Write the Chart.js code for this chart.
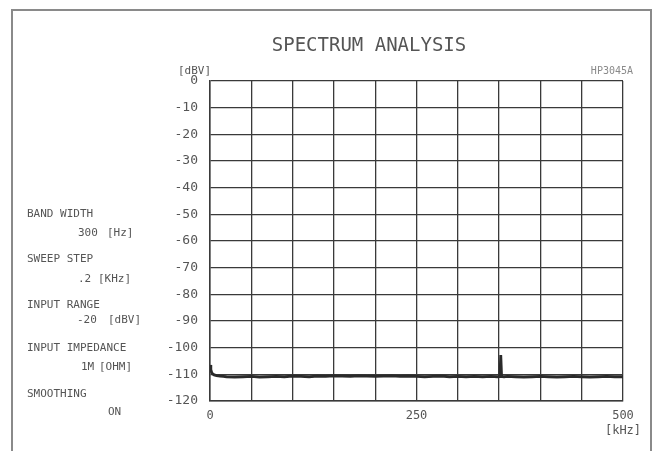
<!DOCTYPE html>
<html>
<head>
<meta charset="utf-8">
<script src="https://cdn.jsdelivr.net/npm/chart.js@4/dist/chart.umd.min.js"></script>
<style>
  html, body { margin: 0; padding: 0; background: #fff; }
  #wrap { width: 659px; height: 451px; }
</style>
</head>
<body>
<div id="wrap"><canvas id="spectrum" width="659" height="451"></canvas></div>
<script>
const freqKHz = [
  0, 1, 2, 3, 5, 8, 12, 16, 20,
  30, 40, 50, 60, 70, 80, 90, 100, 110, 120, 130, 140, 150, 160, 170, 180,
  190, 200, 210, 220, 230, 240, 250, 260, 270, 280, 290, 300, 310, 320, 330, 340,
  348, 351, 352, 353, 356,
  360, 370, 380, 390, 400, 410, 420, 430, 440, 450, 460, 470, 480, 490, 500
];
const levelDbv = [
  -106.5, -108.2, -109.3, -109.8, -110.2, -110.5, -110.7, -110.8, -110.9,
  -111.0, -110.9, -110.8, -111.0, -110.9, -110.8, -110.9, -110.7, -110.8, -110.9, -110.7, -110.8, -110.6, -110.7, -110.8, -110.6,
  -110.7, -110.8, -110.7, -110.6, -110.8, -110.7, -110.8, -110.9, -110.8, -110.7, -110.9, -110.8, -110.9, -110.8, -110.9, -110.8,
  -110.9, -110.8, -102.8, -110.8, -110.9,
  -110.8, -110.9, -111.0, -110.9, -110.8, -110.9, -111.0, -110.9, -110.8, -110.9, -111.0, -110.9, -110.8, -110.9, -110.9
];

// x tick labels shown (others blank)
const xTickLabels = { 0: '0', 250: '250', 500: ['500', '[kHz]'] };

// instrument settings panel on the left
const settingLines = [
  ['BAND WIDTH', 27, 214], ['300', 78, 233], ['[Hz]', 107, 233],
  ['SWEEP STEP', 27, 259], ['.2', 78, 279], ['[KHz]', 98, 279],
  ['INPUT RANGE', 27, 305], ['-20', 77, 320], ['[dBV]', 108, 320],
  ['INPUT IMPEDANCE', 27, 348], ['1M', 81, 367], ['[OHM]', 99, 367],
  ['SMOOTHING', 27, 394], ['ON', 108, 412]
];

const MONO = '"DejaVu Sans Mono", "Liberation Mono", monospace';

const sheetPlugin = {
  id: 'sheet',
  afterDraw: function(chart) {
    const ctx = chart.ctx;
    ctx.save();
    // paper frame
    ctx.strokeStyle = '#8a8a8a';
    ctx.lineWidth = 2;
    ctx.beginPath();
    ctx.moveTo(12, 451);
    ctx.lineTo(12, 10);
    ctx.lineTo(651, 10);
    ctx.lineTo(651, 451);
    ctx.stroke();

    ctx.fillStyle = '#555';
    ctx.textBaseline = 'middle';
    ctx.textAlign = 'center';
    ctx.font = '19px ' + MONO;
    ctx.fillText('SPECTRUM ANALYSIS', 369, 46);

    ctx.font = '11px ' + MONO;
    ctx.textAlign = 'left';
    ctx.fillText('[dBV]', 178, 71);
    settingLines.forEach(function(s) {
      ctx.fillText(s[0], s[1], s[2]);
    });

    ctx.fillStyle = '#8a8a8a';
    ctx.font = '10px ' + MONO;
    ctx.textAlign = 'right';
    ctx.fillText('HP3045A', 633, 71);
    ctx.restore();
  }
};

const ctx = document.getElementById('spectrum').getContext('2d');
new Chart(ctx, {
  type: 'line',
  data: {
    datasets: [{
      data: freqKHz.map(function(f, i) { return { x: f, y: levelDbv[i] }; }),
      borderColor: '#2a2a2a',
      borderWidth: 2.8,
      pointRadius: 0,
      tension: 0
    }]
  },
  options: {
    responsive: false,
    animation: false,
    layout: { padding: { left: 150, right: 36, top: 81, bottom: 10 } },
    plugins: {
      legend: { display: false },
      title: { display: false },
      tooltip: { enabled: false }
    },
    scales: {
      x: {
        type: 'linear',
        min: 0,
        max: 500,
        afterFit: function(scale) { scale.height = 40; },
        border: { color: '#3a3a3a', width: 1.5 },
        grid: { color: '#3a3a3a', lineWidth: 1.3, drawTicks: false },
        ticks: {
          stepSize: 50,
          autoSkip: false,
          maxRotation: 0,
          padding: 8,
          color: '#555',
          font: { family: MONO, size: 12 },
          callback: function(v) { return xTickLabels[v] !== undefined ? xTickLabels[v] : ''; }
        }
      },
      y: {
        min: -120,
        max: 0,
        afterFit: function(scale) { scale.width = 60; },
        border: { color: '#3a3a3a', width: 1.5 },
        grid: { color: '#3a3a3a', lineWidth: 1.3, drawTicks: false },
        ticks: {
          stepSize: 10,
          padding: 12,
          color: '#555',
          font: { family: MONO, size: 13 }
        }
      }
    }
  },
  plugins: [sheetPlugin]
});
</script>
</body>
</html>
